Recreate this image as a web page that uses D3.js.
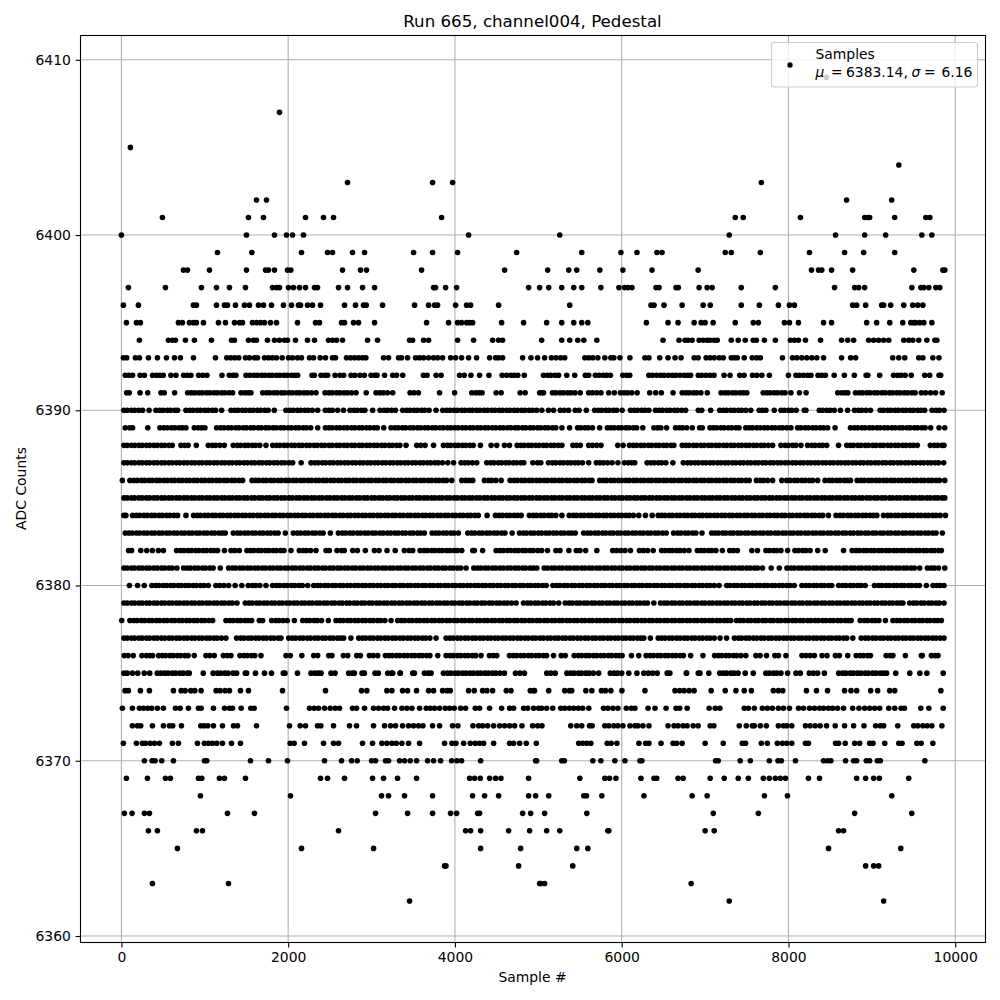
<!DOCTYPE html>
<html><head><meta charset="utf-8">
<script src="https://cdn.jsdelivr.net/npm/d3@7"></script>
<style>html,body{margin:0;padding:0;background:#fff}svg{display:block}text{font-family:"DejaVu Sans";fill:#000}</style>
</head><body><svg id="c" width="1000" height="1000"></svg>
<script>
const chartTitle="Run 665, channel004, Pedestal";
const xLabel="Sample #", yLabel="ADC Counts";
const xTicks=[0,2000,4000,6000,8000,10000];
const yTicks=[6360,6370,6380,6390,6400,6410];
const legendName="Samples", legendMu="6383.14", legendSigma="6.16";

const s6409=[8456];
const s6407=[1896];
const s6405=[108];
const s6404=[9324];
const s6403=[2712,3732,3972,7675];
const s6402=[1620,1740,8697,9238];
const s6401=[492,1524,1704,2208,2424,2544,3840,7362,7458,8144,8914,8950,8974,9274,9648,9696];
const s6400=[0,1500,1836,1980,2052,2184,4164,5257,7290,8565,8914,9166,9600,9720];
const s6399=[1152,1564,2160,2472,2532,2772,2916,3504,3732,4032,4740,5521,5991,6183,6423,6484,7242,7314,7663,8252,8673,8902,9274];
const s6398=[744,792,1056,1500,1728,1764,1836,1992,2032,2652,2868,2940,3600,4596,5112,5365,5461,5738,6015,6364,6917,8276,8360,8400,8517,8770,9504,9852,9876];
const s6397=[84,528,960,1140,1296,1488,1812,1860,1896,2004,2064,2136,2208,2316,2352,2604,2712,2892,3036,3744,3768,3888,4020,4884,5016,5125,5281,5425,5521,5750,5967,6035,6075,6123,6412,6448,6652,6680,6929,7025,7085,7434,7843,8553,8794,8842,8914,9480,9588,9624,9684,9768,9816];
const s6396=[24,204,864,900,1140,1236,1272,1368,1476,1536,1644,1704,1800,1944,2040,2124,2148,2232,2292,2388,2676,2808,2904,2936,3132,3516,3684,3756,3792,4008,4140,4188,4524,5377,6352,6388,6508,6725,6977,7062,7434,7651,7880,8012,8072,8770,8818,8926,9118,9142,9226,9383,9491,9551,9612];
const s6395=[60,180,228,684,732,816,864,900,984,1164,1248,1356,1416,1452,1572,1620,1668,1716,1788,1860,2112,2328,2376,2640,2676,2784,2844,3036,3660,3924,4032,4080,4140,4176,4212,4560,4824,5100,5281,5425,5521,5594,6296,6556,6676,6869,6953,7001,7097,7362,7578,7639,7952,8012,8120,8421,8517,8938,9058,9215,9371,9467,9503,9527,9575,9624,9720];
const s6394=[216,564,612,648,768,876,1080,1320,1356,1524,1584,1620,1752,1836,1896,1956,1992,2088,2232,2316,2484,2532,2580,2652,2952,3072,3456,3492,3624,3684,4032,4224,4452,4524,4572,5040,5281,5377,5473,5546,5702,6496,6688,6760,6797,6845,6929,6977,7025,7061,7110,7146,7314,7398,7482,7578,7615,7711,7843,8024,8072,8120,8204,8385,8637,8710,8782,8962,9022,9082,9142,9203,9383,9443,9491,9563,9660,9756,9780];
const s6393=[24,64,168,216,324,432,540,636,708,864,1128,1264,1312,1360,1408,1488,1536,1596,1632,1716,1764,1812,1860,1928,2004,2052,2112,2160,2256,2304,2384,2448,2532,2568,2700,2748,2796,2844,2892,2932,3144,3204,3324,3360,3432,3528,3576,3624,3684,3744,3792,3852,3948,4008,4080,4164,4260,4416,4488,4524,4572,4812,4912,4992,5076,5157,5213,5269,5317,5558,5606,5654,5714,5798,5870,5906,5979,6099,6279,6327,6456,6556,6640,6712,6869,6917,7013,7061,7110,7170,7218,7314,7350,7386,7470,7566,7619,7663,7928,8048,8100,8160,8220,8280,8340,8421,8637,8746,8806,9251,9323,9395,9563,9612,9732,9805];
const s6392=[46,90,134,224,276,374,420,460,502,594,654,746,790,834,926,976,1026,1206,1294,1340,1374,1494,1540,1590,1630,1680,1720,1770,1810,1860,1900,1950,1990,2040,2080,2114,2286,2314,2394,2440,2474,2562,2620,2666,2754,2800,2860,2914,2994,3040,3066,3156,3254,3300,3374,3622,3666,3774,3834,4056,4112,4192,4296,4408,4566,4620,4670,4710,4754,4832,5062,5110,5150,5200,5243,5341,5437,5564,5604,5684,5730,5780,5820,5865,6013,6060,6097,6326,6370,6420,6470,6510,6560,6610,6650,6700,6750,6790,6827,6919,6960,7010,7060,7108,7228,7300,7416,7468,7569,7620,7681,7771,8000,8090,8130,8180,8230,8270,8355,8400,8443,8549,8671,8790,8932,8952,9094,9261,9310,9350,9400,9473,9634,9694,9806,9826];
const s6391=[62,94,224,316,474,514,638,794,840,880,930,970,1020,1060,1110,1150,1200,1240,1290,1334,1434,1480,1520,1554,1694,1740,1780,1830,1870,1920,1960,2010,2050,2100,2140,2190,2230,2280,2334,2442,2490,2530,2580,2620,2670,2710,2760,2814,2936,3054,3100,3140,3190,3254,3462,3510,3562,3816,3996,4202,4250,4290,4326,4494,4554,4782,4842,5016,5042,5062,5170,5210,5260,5300,5350,5390,5440,5504,5604,5650,5700,5752,5844,5912,5985,6030,6070,6120,6185,6336,6408,6476,6616,6726,6770,6810,6860,6900,6950,7027,7192,7240,7280,7330,7370,7420,7460,7501,7697,7740,7780,7830,7870,7920,7960,8030,8132,8212,8591,8640,8680,8712,8804,8850,8890,8940,8980,9030,9070,9120,9160,9210,9250,9300,9340,9390,9430,9480,9520,9594,9644,9704,9764,9844];
const s6390=[30,70,120,160,210,254,332,414,460,500,550,590,640,674,774,820,860,910,950,1000,1040,1090,1130,1202,1314,1360,1400,1450,1490,1540,1580,1630,1670,1720,1760,1834,1974,2020,2060,2110,2150,2200,2240,2290,2354,2446,2490,2530,2594,2664,2742,2790,2830,2880,2920,3014,3102,3150,3190,3240,3286,3374,3420,3460,3510,3550,3600,3640,3690,3774,3854,3900,3940,3990,4030,4080,4120,4170,4210,4260,4300,4350,4390,4440,4480,4530,4570,4620,4660,4710,4750,4800,4840,4890,4930,4980,5042,5122,5183,5263,5310,5363,5443,5490,5576,5676,5720,5760,5810,5850,5900,5940,6005,6105,6150,6190,6240,6280,6326,6406,6450,6490,6540,6580,6630,6670,6720,6767,6919,6960,7067,7176,7220,7260,7310,7350,7400,7440,7490,7548,7649,7690,7730,7830,7910,7950,8000,8040,8094,8190,8210,8370,8410,8460,8500,8550,8623,8710,8792,8840,8880,8930,8984,9100,9140,9190,9230,9280,9320,9370,9410,9460,9500,9550,9590,9634,9722,9770,9810,9866];
const s6389=[46,100,134,316,462,510,550,600,640,690,730,774,874,920,960,1002,1142,1190,1230,1280,1320,1370,1410,1460,1500,1550,1590,1640,1680,1730,1770,1820,1860,1910,1950,2000,2040,2090,2130,2180,2220,2270,2354,2446,2490,2530,2580,2620,2670,2710,2760,2800,2850,2890,2940,2980,3030,3070,3146,3234,3280,3320,3370,3410,3460,3500,3550,3590,3640,3680,3730,3770,3820,3860,3910,3950,4000,4040,4090,4130,4180,4220,4270,4310,4360,4400,4450,4490,4540,4580,4630,4670,4720,4760,4810,4850,4900,4940,4990,5030,5080,5120,5170,5210,5283,5375,5471,5510,5560,5600,5650,5736,5828,5870,5910,5960,6000,6050,6090,6140,6180,6253,6386,6430,6470,6538,6646,6690,6730,6780,6847,6935,6967,7059,7100,7140,7190,7230,7280,7320,7370,7408,7488,7530,7570,7620,7660,7710,7750,7800,7840,7890,7930,7980,8030,8110,8150,8200,8240,8290,8330,8380,8420,8470,8559,8744,8790,8830,8880,8920,8970,9010,9060,9100,9150,9190,9240,9280,9330,9370,9420,9460,9510,9550,9600,9640,9706,9806,9875];
const s6388=[30,70,120,160,210,250,300,340,390,430,480,520,570,610,714,760,800,898,1042,1090,1130,1180,1234,1342,1390,1430,1480,1520,1570,1610,1660,1734,1814,1860,1900,1950,1990,2040,2080,2130,2170,2220,2260,2310,2350,2400,2440,2490,2530,2580,2620,2670,2710,2760,2800,2850,2890,2940,2980,3030,3070,3120,3160,3210,3250,3300,3340,3414,3542,3590,3642,3744,3862,3910,3950,4000,4040,4090,4130,4180,4220,4306,4434,4502,4594,4654,4746,4790,4830,4880,4920,4970,5010,5060,5100,5150,5190,5240,5283,5415,5460,5504,5604,5650,5700,5752,5953,6017,6093,6140,6180,6230,6270,6320,6360,6410,6450,6500,6540,6590,6626,6726,6770,6810,6860,6900,6950,6990,7040,7080,7130,7170,7220,7260,7310,7350,7400,7440,7490,7530,7580,7620,7670,7710,7760,7810,7910,7960,8000,8050,8090,8150,8230,8280,8320,8370,8410,8459,8601,8699,8740,8780,8830,8870,8920,8960,9010,9050,9100,9140,9190,9230,9280,9320,9370,9410,9460,9500,9546,9702,9750,9790,9840,9866];
const s6387=[30,70,120,160,210,250,300,340,390,430,480,520,570,610,660,700,750,790,840,880,930,970,1020,1060,1110,1150,1200,1240,1290,1330,1380,1420,1470,1510,1560,1600,1650,1690,1740,1780,1830,1870,1920,1960,2010,2054,2156,2274,2320,2360,2410,2450,2500,2540,2590,2630,2680,2720,2770,2810,2860,2900,2950,2990,3040,3080,3130,3170,3220,3260,3310,3350,3400,3440,3490,3530,3580,3620,3670,3710,3760,3800,3850,3914,3984,4074,4120,4160,4210,4262,4382,4430,4470,4520,4560,4610,4650,4700,4740,4790,4826,4934,4990,5030,5122,5170,5210,5260,5300,5350,5390,5440,5480,5530,5604,5696,5740,5780,5830,5885,5955,6033,6080,6120,6157,6305,6350,6390,6440,6480,6530,6614,6739,6790,6830,6880,6920,6970,7010,7060,7100,7150,7190,7240,7280,7330,7370,7420,7460,7510,7550,7600,7640,7690,7730,7780,7820,7870,7910,7960,8000,8050,8090,8140,8180,8230,8270,8320,8360,8410,8450,8500,8540,8590,8630,8680,8720,8770,8810,8860,8900,8950,8990,9040,9080,9130,9170,9220,9260,9310,9350,9400,9440,9490,9530,9580,9620,9670,9710,9760,9800,9862];
const s6386=[12,102,150,190,240,280,330,370,420,460,510,550,600,640,690,730,780,820,870,910,960,1000,1050,1090,1140,1180,1230,1270,1320,1360,1410,1454,1566,1610,1650,1700,1740,1790,1830,1880,1920,1970,2010,2060,2100,2150,2190,2240,2280,2330,2370,2420,2460,2510,2550,2600,2640,2690,2730,2780,2820,2870,2910,2960,3000,3050,3090,3140,3180,3230,3270,3320,3360,3410,3450,3500,3540,3590,3630,3680,3720,3770,3810,3860,3900,3962,4082,4130,4170,4214,4354,4400,4440,4490,4554,4662,4710,4750,4800,4840,4890,4930,4980,5020,5070,5110,5160,5200,5250,5290,5340,5380,5430,5470,5520,5560,5610,5644,5736,5780,5820,5870,5910,5960,6000,6050,6090,6140,6180,6230,6270,6320,6360,6410,6450,6500,6540,6590,6630,6680,6720,6770,6810,6860,6900,6950,6990,7040,7080,7130,7170,7220,7260,7310,7350,7400,7440,7490,7529,7616,7660,7700,7750,7810,7920,7978,8020,8070,8110,8160,8200,8250,8290,8351,8439,8490,8530,8580,8620,8670,8710,8744,8824,8870,8910,8960,9000,9050,9090,9140,9180,9230,9270,9320,9360,9410,9450,9500,9540,9590,9630,9680,9720,9770,9810,9875];
const s6385=[30,70,120,160,210,250,300,340,390,430,480,520,570,610,660,700,750,790,840,880,930,970,1020,1060,1110,1150,1200,1240,1290,1330,1380,1420,1470,1510,1560,1600,1650,1690,1740,1780,1830,1870,1920,1960,2010,2050,2100,2140,2190,2230,2280,2320,2370,2410,2460,2500,2550,2590,2640,2680,2730,2770,2820,2860,2910,2950,3000,3040,3090,3130,3180,3220,3270,3310,3360,3400,3450,3490,3540,3580,3630,3670,3720,3760,3810,3850,3900,3940,3990,4030,4080,4120,4170,4210,4260,4300,4350,4390,4440,4480,4530,4570,4620,4660,4710,4750,4800,4840,4890,4930,4980,5020,5070,5110,5160,5200,5250,5290,5340,5380,5430,5470,5520,5560,5610,5650,5700,5740,5790,5830,5880,5920,5970,6010,6060,6100,6150,6190,6240,6280,6330,6370,6420,6460,6510,6550,6600,6640,6690,6730,6780,6820,6870,6910,6960,7000,7050,7090,7140,7180,7230,7270,7320,7360,7410,7450,7500,7540,7590,7630,7680,7720,7770,7810,7860,7900,7950,7990,8040,8080,8130,8170,8220,8260,8310,8350,8400,8440,8490,8530,8580,8620,8670,8710,8760,8800,8850,8890,8940,8980,9030,9070,9120,9160,9210,9250,9300,9340,9390,9430,9480,9520,9570,9610,9660,9700,9750,9790,9840,9875];
const s6384=[30,54,134,180,220,270,310,360,400,450,490,540,580,630,674,774,866,910,950,1000,1040,1090,1130,1180,1220,1270,1310,1360,1400,1450,1490,1540,1580,1630,1670,1720,1760,1810,1850,1900,1940,1990,2030,2080,2120,2170,2210,2260,2300,2350,2390,2440,2480,2530,2570,2620,2660,2710,2750,2800,2840,2890,2930,2980,3020,3070,3110,3160,3200,3250,3290,3340,3380,3430,3470,3520,3560,3610,3650,3700,3740,3790,3830,3880,3920,3970,4010,4060,4100,4150,4190,4240,4280,4386,4486,4530,4570,4620,4660,4710,4750,4794,4894,4940,4980,5030,5070,5120,5160,5210,5283,5371,5420,5460,5510,5550,5600,5640,5690,5730,5780,5820,5870,5910,5960,6000,6050,6090,6140,6205,6285,6366,6438,6480,6520,6570,6610,6660,6700,6750,6790,6840,6880,6930,6970,7020,7060,7110,7150,7200,7240,7290,7330,7380,7420,7470,7510,7560,7600,7650,7690,7740,7780,7830,7870,7920,7960,8010,8050,8100,8140,8190,8230,8280,8320,8370,8410,8479,8571,8620,8660,8710,8750,8800,8840,8890,8930,8980,9020,9060,9140,9190,9230,9280,9320,9370,9410,9460,9500,9550,9590,9640,9680,9730,9770,9820,9883];
const s6383=[46,90,130,180,220,270,310,360,400,450,490,540,580,630,670,720,760,810,850,900,940,990,1030,1080,1120,1170,1210,1246,1342,1390,1430,1480,1520,1570,1610,1660,1700,1750,1790,1840,1880,1966,2062,2110,2150,2200,2240,2290,2330,2380,2420,2506,2602,2650,2690,2740,2780,2830,2870,2920,2960,3010,3050,3100,3140,3190,3230,3280,3320,3370,3410,3460,3500,3550,3590,3634,3726,3770,3810,3860,3900,3950,3990,4042,4154,4200,4240,4290,4330,4380,4420,4470,4510,4560,4600,4686,4774,4820,4860,4910,4950,5000,5040,5090,5130,5180,5220,5270,5310,5360,5400,5443,5544,5590,5630,5680,5720,5770,5810,5860,5900,5950,5990,6040,6080,6130,6170,6220,6260,6310,6350,6400,6440,6490,6534,6622,6670,6710,6760,6800,6850,6890,6963,7079,7120,7160,7210,7250,7300,7340,7390,7430,7480,7520,7570,7610,7660,7700,7750,7790,7840,7880,7930,7970,8020,8060,8110,8150,8200,8240,8290,8330,8380,8420,8470,8510,8560,8600,8650,8690,8740,8780,8830,8870,8920,8960,9010,9050,9100,9140,9190,9230,9280,9320,9370,9410,9460,9500,9550,9590,9640,9680,9730,9770,9846];
const s6382=[86,122,232,304,372,444,504,662,710,750,800,840,890,930,980,1020,1070,1110,1154,1236,1314,1360,1414,1506,1550,1590,1640,1680,1730,1770,1820,1860,1910,1950,2034,2134,2180,2220,2270,2334,2454,2494,2586,2640,2674,2774,2830,2926,3034,3090,3186,3284,3394,3450,3494,3582,3630,3670,3720,3760,3810,3850,3900,3940,3990,4030,4082,4214,4234,4332,4494,4540,4580,4630,4670,4720,4760,4810,4850,4900,4940,4994,5040,5110,5211,5260,5367,5455,5500,5568,5702,5892,5940,5990,6040,6105,6213,6260,6310,6378,6478,6520,6570,6610,6660,6700,6750,6807,6907,6950,6990,7040,7080,7130,7208,7296,7340,7388,7561,7629,7729,7770,7820,7860,7910,7990,8078,8120,8170,8210,8260,8351,8441,8661,8764,8810,8850,8900,8940,8990,9030,9080,9120,9170,9210,9260,9300,9350,9390,9440,9480,9530,9570,9620,9660,9710,9750,9800,9834];
const s6381=[30,70,120,160,210,250,300,340,390,430,480,520,570,610,666,746,790,830,880,920,970,1010,1060,1100,1186,1286,1330,1370,1420,1460,1510,1550,1600,1640,1690,1730,1780,1820,1870,1910,1960,2000,2050,2090,2140,2180,2230,2270,2320,2360,2410,2450,2500,2540,2590,2630,2680,2720,2770,2810,2860,2900,2950,2990,3040,3080,3130,3170,3220,3260,3310,3350,3400,3440,3490,3530,3580,3620,3670,3710,3760,3800,3850,3890,3940,3980,4030,4070,4134,4226,4270,4310,4360,4400,4450,4490,4540,4580,4630,4670,4720,4760,4810,4850,4900,4940,4982,5070,5110,5160,5200,5250,5290,5340,5380,5430,5470,5520,5560,5610,5650,5700,5740,5790,5830,5880,5920,5970,6010,6060,6100,6150,6190,6240,6280,6330,6370,6420,6460,6510,6550,6600,6640,6690,6730,6780,6820,6870,6910,6960,7000,7050,7090,7140,7180,7230,7270,7320,7360,7410,7450,7500,7540,7590,7630,7689,7793,7890,7982,8030,8070,8120,8160,8210,8250,8300,8340,8390,8430,8480,8520,8570,8610,8660,8700,8750,8790,8840,8880,8930,8970,9020,9060,9110,9150,9200,9240,9290,9330,9380,9420,9470,9510,9574,9666,9710,9750,9800,9875];
const s6380=[96,194,274,366,410,450,500,540,590,630,680,720,770,810,860,900,950,990,1042,1134,1180,1230,1286,1364,1444,1522,1570,1610,1660,1734,1814,1860,1900,1950,1990,2040,2080,2130,2170,2234,2306,2350,2390,2440,2480,2530,2570,2620,2660,2710,2750,2800,2840,2890,2930,2980,3020,3070,3110,3160,3200,3250,3290,3340,3380,3430,3470,3520,3560,3610,3650,3700,3740,3790,3830,3880,3920,3970,4010,4060,4100,4150,4190,4240,4280,4330,4370,4420,4460,4510,4550,4600,4640,4690,4730,4780,4820,4870,4910,4960,5000,5050,5095,5175,5220,5260,5310,5350,5400,5440,5490,5530,5580,5620,5670,5710,5760,5800,5850,5890,5940,5980,6030,6070,6120,6160,6210,6250,6300,6340,6390,6430,6480,6520,6570,6610,6660,6700,6750,6790,6840,6880,6930,6970,7020,7060,7110,7168,7260,7300,7350,7390,7440,7480,7530,7570,7620,7660,7710,7750,7800,7840,7890,7930,7980,8020,8070,8162,8210,8250,8300,8340,8390,8430,8480,8519,8603,8650,8690,8740,8780,8830,8870,8920,9032,9080,9120,9170,9210,9260,9300,9350,9390,9440,9480,9530,9570,9654,9734,9780,9820,9866];
const s6379=[30,70,120,160,210,250,300,340,390,430,480,520,570,610,660,700,750,790,840,880,930,970,1020,1060,1110,1150,1200,1240,1290,1330,1386,1486,1530,1570,1620,1660,1710,1750,1800,1840,1890,1930,1980,2020,2070,2110,2160,2200,2250,2290,2340,2380,2430,2470,2520,2560,2610,2650,2700,2740,2790,2830,2880,2920,2970,3010,3060,3100,3150,3190,3240,3280,3330,3370,3420,3460,3510,3550,3600,3640,3690,3730,3780,3820,3870,3910,3960,4000,4050,4090,4140,4180,4230,4270,4320,4360,4410,4450,4500,4540,4590,4630,4680,4734,4822,4870,4910,4960,5000,5050,5090,5140,5183,5245,5323,5370,5410,5460,5500,5550,5590,5640,5680,5730,5770,5820,5860,5910,5950,6000,6040,6090,6130,6180,6220,6270,6310,6386,6466,6510,6550,6600,6640,6690,6730,6780,6820,6870,6910,6960,7000,7050,7090,7140,7180,7230,7270,7320,7360,7410,7450,7500,7540,7590,7630,7680,7720,7770,7810,7860,7900,7950,7990,8040,8080,8130,8170,8220,8260,8310,8350,8400,8440,8490,8530,8580,8620,8670,8710,8760,8800,8850,8890,8940,8980,9030,9070,9120,9160,9210,9250,9300,9340,9373,9453,9500,9540,9590,9630,9680,9720,9770,9810,9866];
const s6378=[4,102,150,190,240,280,330,370,420,460,510,550,600,640,690,730,780,820,870,910,960,1000,1050,1094,1254,1300,1340,1390,1430,1480,1520,1562,1654,1694,1802,1850,1890,1940,1990,2074,2174,2220,2260,2310,2350,2400,2482,2574,2620,2660,2710,2750,2800,2840,2890,2930,2980,3020,3070,3110,3160,3234,3314,3360,3400,3450,3490,3540,3580,3630,3670,3720,3760,3810,3850,3900,3940,3990,4030,4080,4120,4170,4210,4260,4300,4350,4390,4440,4480,4530,4570,4620,4660,4710,4750,4800,4840,4890,4930,4980,5020,5070,5110,5160,5200,5250,5290,5340,5380,5430,5470,5520,5560,5610,5650,5700,5740,5790,5830,5880,5920,5970,6010,6060,6100,6150,6190,6240,6280,6330,6370,6420,6460,6510,6550,6600,6640,6690,6730,6780,6820,6870,6910,6960,7000,7050,7090,7140,7180,7230,7270,7308,7376,7420,7460,7510,7550,7600,7640,7690,7730,7780,7820,7870,7910,7960,8000,8050,8090,8140,8180,8230,8270,8320,8360,8410,8450,8500,8540,8590,8630,8680,8720,8752,8860,8910,8950,9000,9040,9085,9163,9253,9300,9340,9390,9430,9480,9520,9570,9610,9660,9700,9750,9790,9834];
const s6377=[30,70,120,160,210,250,300,340,390,430,480,520,570,610,660,700,750,790,840,880,930,970,1020,1060,1110,1150,1200,1254,1382,1430,1470,1520,1560,1610,1650,1700,1740,1790,1830,1880,1914,2006,2050,2090,2140,2180,2230,2270,2320,2360,2410,2450,2500,2540,2590,2630,2666,2752,2846,2890,2930,2980,3020,3070,3110,3160,3200,3250,3290,3340,3380,3430,3470,3520,3560,3610,3650,3700,3774,3894,3940,3980,4030,4070,4120,4160,4210,4250,4300,4340,4390,4430,4480,4520,4570,4610,4660,4700,4750,4790,4840,4880,4930,4970,5020,5060,5110,5150,5200,5240,5290,5330,5380,5420,5470,5510,5560,5600,5650,5690,5740,5780,5830,5870,5920,5960,6010,6050,6100,6140,6190,6230,6266,6344,6438,6480,6520,6570,6610,6660,6700,6750,6790,6840,6880,6930,6970,7020,7060,7110,7180,7258,7352,7400,7440,7490,7530,7580,7620,7670,7710,7760,7800,7850,7890,7940,7980,8030,8070,8120,8160,8210,8250,8300,8340,8390,8430,8480,8520,8570,8610,8660,8700,8772,8872,8920,8960,9010,9050,9100,9140,9190,9230,9280,9320,9370,9410,9460,9500,9550,9590,9640,9680,9730,9770,9820,9866];
const s6376=[34,80,142,246,300,342,374,446,490,530,580,620,670,710,760,800,874,1014,1060,1114,1222,1270,1314,1422,1470,1510,1560,1600,1674,1974,2026,2164,2306,2354,2486,2526,2662,2714,2822,2866,2974,3020,3074,3166,3210,3250,3300,3340,3390,3430,3480,3520,3570,3610,3660,3700,3794,3894,3940,3980,4030,4070,4120,4160,4210,4250,4314,4414,4460,4502,4654,4700,4740,4790,4830,4880,4920,4970,5010,5060,5100,5183,5275,5323,5431,5480,5520,5570,5610,5660,5700,5750,5790,5840,5880,5930,5970,6005,6117,6205,6293,6340,6380,6430,6470,6520,6560,6610,6650,6700,6740,6827,6975,7115,7160,7200,7250,7290,7340,7380,7430,7489,7609,7660,7737,7837,7880,7970,8162,8210,8260,8311,8403,8463,8563,8611,8711,8812,8860,8900,8950,8984,9172,9220,9253,9403,9594,9606,9714,9760,9794];
const s6375=[30,70,132,196,274,340,430,474,520,560,610,650,700,740,790,814,982,1100,1150,1190,1240,1280,1340,1382,1486,1502,1608,1716,1800,1942,1962,2112,2274,2320,2360,2394,2514,2562,2726,2770,2794,2886,2914,3042,3082,3194,3240,3254,3342,3346,3494,3514,3634,3680,3714,3862,3910,3950,4000,4040,4090,4130,4180,4220,4270,4310,4360,4400,4450,4490,4540,4594,4726,4780,4834,5102,5150,5203,5343,5390,5430,5480,5520,5570,5610,5660,5724,5864,5910,5950,6000,6085,6183,6265,6320,6370,6426,6546,6578,6775,6779,6919,6939,7045,7176,7220,7260,7310,7350,7396,7482,7578,7729,7770,7820,7860,7910,7990,8090,8142,8250,8300,8350,8431,8603,8650,8690,8740,8780,8830,8870,8920,8960,9010,9050,9100,9140,9177,9287,9455,9576,9660,9856];
const s6374=[44,84,228,336,624,716,764,832,880,956,1136,1184,1244,1296,1428,1524,1932,2448,2880,2944,3184,3244,3372,3432,3540,3684,3744,3852,3904,3944,4164,4232,4332,4384,4452,4616,4672,4904,4956,4940,5125,5317,5373,5401,5570,5642,5758,5806,5870,6003,6279,6640,6696,6749,6809,6869,7073,7242,7370,7470,7555,7819,7879,7932,8216,8336,8469,8673,8750,8818,8986,9070,9215,9275,9828];
const s6373=[12,132,216,264,316,364,432,504,648,704,804,924,956,1104,1236,1296,1332,1436,1552,1592,1980,2256,2312,2364,2436,2504,2564,2616,2772,2820,2916,3024,3084,3144,3192,3276,3364,3424,3484,3576,3656,3704,3756,3816,3884,3936,3992,4068,4128,4244,4296,4416,4560,4656,4704,4824,4872,4944,5004,5040,5100,5173,5269,5317,5373,5425,5481,5533,5606,5782,5834,5895,5955,6055,6115,6159,6316,6400,6532,6652,6696,6785,7049,7122,7178,7470,7519,7591,7687,7747,7807,7879,7940,8012,8120,8180,8252,8312,8373,8421,8481,8529,8589,8661,8770,8846,8914,8974,9034,9094,9203,9275,9351,9391,9588,9684,9856];
const s6372=[132,192,232,372,504,576,616,720,952,992,1036,1104,1212,1344,1392,1620,2016,2144,2208,2352,2392,2544,2736,2820,3024,3156,3228,3288,3372,3444,3504,3564,3616,3732,3816,3972,4036,4216,4284,4332,4392,4464,4536,4596,4656,4716,4804,4932,4992,5044,5389,5461,5521,5614,5646,5798,5846,5906,5955,6015,6099,6159,6195,6255,6327,6556,6628,6676,6737,6785,6857,6917,7061,7106,7410,7494,7567,7591,7663,7735,7879,7940,7980,8040,8204,8260,8320,8381,8457,8561,8673,8782,8906,9046,9102,9142,9311,9503,9551,9612,9664,9720,9840];
const s6371=[24,180,252,288,344,396,456,612,684,912,996,1044,1092,1144,1212,1320,1428,2024,2072,2196,2424,2544,2604,2892,3012,3124,3184,3244,3296,3364,3444,3576,3876,3964,4012,4104,4184,4244,4296,4344,4464,4656,4704,4776,4856,4976,5485,5533,5582,5630,5826,5874,5943,6207,6287,6327,6472,6616,6660,6725,7001,7218,7446,7486,7675,7747,7867,7928,7980,8040,8204,8240,8565,8601,8681,8794,8854,8974,9014,9155,9323,9363,9540,9592,9732];
const s6370=[276,368,404,484,624,996,1024,1548,1764,1992,2436,2640,2760,2828,3000,3048,3168,3204,3336,3396,3464,3540,3672,3744,3828,3960,4024,4080,4308,4968,4980,5281,5313,5654,5750,5918,6039,6219,6243,7126,7158,7422,7543,7771,7875,7915,8084,8421,8469,8509,8685,8782,8818,8934,8974,9066,9102,9636];
const s6369=[60,312,528,588,924,964,1176,1236,1488,2388,2472,2676,3012,3144,3312,3540,4176,4236,4304,4416,4488,4552,4884,5498,5798,5854,5931,6231,6388,6420,6676,6737,7061,7230,7398,7519,7699,7771,7843,7903,7964,8240,8373,8818,8926,9022,9090,9443];
const s6368=[948,2028,3120,3204,3396,3732,4212,4356,4524,4884,4968,5125,5546,5578,5762,6267,6845,7025,7711,7988,9239];
const s6367=[36,128,276,336,1272,1596,3048,3432,3732,3948,4020,4272,4296,4812,4908,5076,5582,7098,7639,8794,9479];
const s6366=[324,432,900,972,2604,4128,4188,4308,4644,4896,5100,5257,5834,5846,7001,7110,8601,8661];
const s6365=[672,2160,3024,4308,4788,5461,5594,8481,9347];
const s6364=[3876,3892,4764,5413,8926,9022,9082];
const s6363=[372,1284,5016,5028,5076,6833];
const s6362=[3456,7290,9142];

const rows=[[6409,s6409],[6407,s6407],[6405,s6405],[6404,s6404],[6403,s6403],[6402,s6402],[6401,s6401],[6400,s6400],[6399,s6399],[6398,s6398],[6397,s6397],[6396,s6396],[6395,s6395],[6394,s6394],[6393,s6393],[6392,s6392],[6391,s6391],[6390,s6390],[6389,s6389],[6388,s6388],[6387,s6387],[6386,s6386],[6385,s6385],[6384,s6384],[6383,s6383],[6382,s6382],[6381,s6381],[6380,s6380],[6379,s6379],[6378,s6378],[6377,s6377],[6376,s6376],[6375,s6375],[6374,s6374],[6373,s6373],[6372,s6372],[6371,s6371],[6370,s6370],[6369,s6369],[6368,s6368],[6367,s6367],[6366,s6366],[6365,s6365],[6364,s6364],[6363,s6363],[6362,s6362]];
const points=rows.flatMap(([adc,xs])=>xs.map(x=>({x,adc})));

const L=80.5,R=985.5,T=35.5,B=942.5;
const x=d3.scaleLinear().domain([0,10000]).range([121.4,955.2]);
const y=d3.scaleLinear().domain([6360,6410]).range([936,59.8]);
const svg=d3.select("#c");
const gridCol="#b0b0b0";
const grid=svg.append("g");
grid.selectAll("line.v").data(xTicks).join("line").attr("x1",d=>x(d)).attr("x2",d=>x(d)).attr("y1",T).attr("y2",B).attr("stroke",gridCol).attr("stroke-width",1.1);
grid.selectAll("line.h").data(yTicks).join("line").attr("y1",d=>y(d)).attr("y2",d=>y(d)).attr("x1",L).attr("x2",R).attr("stroke",gridCol).attr("stroke-width",1.1);
svg.append("g").selectAll("circle").data(points).join("circle")
  .attr("cx",d=>x(d.x)).attr("cy",d=>y(d.adc)).attr("r",2.8).attr("fill","#000");

const xAxis=d3.axisBottom(x).tickValues(xTicks).tickFormat(d3.format("d")).tickSizeOuter(0).tickSize(4.9).tickPadding(4.8);
const yAxis=d3.axisLeft(y).tickValues(yTicks).tickFormat(d3.format("d")).tickSizeOuter(0).tickSize(4.9).tickPadding(4.8);
const gx=svg.append("g").attr("transform",`translate(0,${B})`).call(xAxis);
const gy=svg.append("g").attr("transform",`translate(${L},0)`).call(yAxis);
[gx,gy].forEach(g=>{g.select(".domain").remove();g.selectAll("line").attr("stroke","#000").attr("stroke-width",1.1);g.selectAll("text").attr("font-family","DejaVu Sans").attr("font-size",13.9).attr("fill","#000");});
svg.append("rect").attr("x",L).attr("y",T).attr("width",R-L).attr("height",B-T).attr("fill","none").attr("stroke","#000").attr("stroke-width",1.1);

svg.append("text").attr("x",532.5).attr("y",27).attr("text-anchor","middle").attr("font-size",16.67).text(chartTitle);
svg.append("text").attr("x",532.5).attr("y",982).attr("text-anchor","middle").attr("font-size",13.9).text(xLabel);
svg.append("text").attr("transform","translate(26,488.5) rotate(-90)").attr("text-anchor","middle").attr("font-size",13.9).text(yLabel);

const lg=svg.append("g");
lg.append("rect").attr("x",771.5).attr("y",42.5).attr("width",206).attr("height",44.5).attr("rx",3).attr("fill","#fff").attr("fill-opacity",.8).attr("stroke","#ccc").attr("stroke-width",1.1);
lg.append("circle").attr("cx",790).attr("cy",65).attr("r",2.7).attr("fill","#000");
lg.append("text").attr("x",815.5).attr("y",59).attr("font-size",13.9).text(legendName);
const t=lg.append("text").attr("y",76.5).attr("font-size",13.9);
t.append("tspan").attr("x",815.5).attr("font-style","italic").text("μ");
t.append("tspan").attr("x",831).text("= ");
t.append("tspan").attr("x",846).text(legendMu+",");
t.append("tspan").attr("x",911.5).attr("font-style","italic").text("σ");
t.append("tspan").attr("x",924).text("= ");
t.append("tspan").attr("x",941.5).text(legendSigma);
</script></body></html>
